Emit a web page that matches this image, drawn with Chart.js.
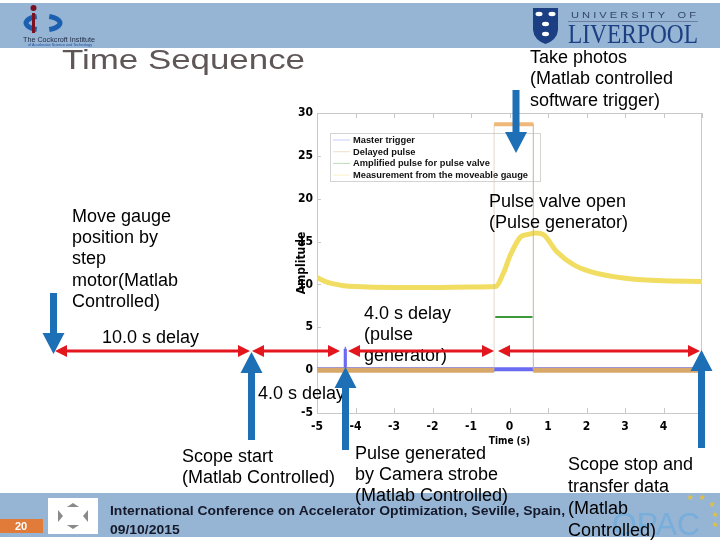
<!DOCTYPE html>
<html>
<head>
<meta charset="utf-8">
<title>Time Sequence</title>
<script src="https://cdn.jsdelivr.net/npm/chart.js@4.4.1/dist/chart.umd.min.js"></script>
<style>
  html, body { margin: 0; padding: 0; background: #fff; }
  #chart { display: block; }
</style>
</head>
<body>
<canvas id="chart" width="720" height="540"></canvas>
<script>
// values: time (s) and amplitude
const timeTicks = [-5, -4, -3, -2, -1, 0, 1, 2, 3, 4, 5];
const ampTicks = [-5, 0, 5, 10, 15, 20, 25, 30];
const seriesLabels = ['Master trigger', 'Delayed pulse', 'Amplified pulse for pulse valve', 'Measurement from the moveable gauge'];

const masterT = [-5, -4.28, -4.28, -4.25, -4.25, 5];
const masterV = [0.1, 0.1, 2.5, 2.5, 0.1, 0.1];
const delayedT = [-5, -0.4, -0.4, 0.62, 0.62, 5];
const delayedV = [0, 0, 28.7, 28.7, 0, 0];
const valveT = [-5, -0.37, -0.37, 0.6, 0.6, 5];
const valveV = [0, 0, 6.2, 6.2, 0, 0];
const gaugeT = [-5, -4.7, -4.3, -4.0, -3.0, -2.0, -1.0, -0.37, -0.16, 0.02, 0.28, 0.45, 0.67, 0.88, 1.23, 1.66, 2.1, 2.96, 3.83, 5.0];
const gaugeV = [10.8, 10.2, 9.85, 9.75, 9.65, 9.65, 9.7, 9.75, 11.3, 13.4, 15.5, 15.8, 16.0, 15.8, 13.8, 12.3, 11.5, 10.75, 10.45, 10.35];

const BAND = '#96b4d4';
const BLUE = '#1d6fb6';
const RED = '#e3161e';
const SANS = '"Liberation Sans", Arial, sans-serif';
const NARROW = '"Liberation Sans Narrow", "DejaVu Sans Condensed", "Liberation Sans", Arial, sans-serif';

const pts = (t, v) => t.map((x, i) => ({ x: x, y: v[i] }));
const vertical = c => c.p0.parsed.x === c.p1.parsed.x;

// draws text squeezed/stretched to a given width
function fitText(ctx, text, x, y, w, font, color) {
  ctx.save();
  ctx.font = font;
  ctx.fillStyle = color;
  ctx.textBaseline = 'alphabetic';
  ctx.textAlign = 'left';
  const m = ctx.measureText(text).width;
  ctx.translate(x, y);
  ctx.scale(w / m, 1);
  ctx.fillText(text, 0, 0);
  ctx.restore();
}

function lines(ctx, arr, x, ys) {
  ctx.save();
  ctx.font = '18px ' + SANS;
  ctx.fillStyle = '#000';
  ctx.textAlign = 'left';
  ctx.textBaseline = 'alphabetic';
  arr.forEach((s, i) => ctx.fillText(s, x, ys[i]));
  ctx.restore();
}

function blueArrow(ctx, x, tail, tip) {
  const dir = tip > tail ? 1 : -1;
  const head = 21, hw = 11, sw = 3.5;
  const base = tip - dir * head;
  ctx.save();
  ctx.fillStyle = BLUE;
  ctx.beginPath();
  ctx.moveTo(x - sw, tail);
  ctx.lineTo(x + sw, tail);
  ctx.lineTo(x + sw, base);
  ctx.lineTo(x + hw, base);
  ctx.lineTo(x, tip);
  ctx.lineTo(x - hw, base);
  ctx.lineTo(x - sw, base);
  ctx.closePath();
  ctx.fill();
  ctx.restore();
}

function redArrow(ctx, x1, x2, y) {
  const hl = 12, hw = 6;
  ctx.save();
  ctx.strokeStyle = RED;
  ctx.fillStyle = RED;
  ctx.lineWidth = 3;
  ctx.beginPath();
  ctx.moveTo(x1 + hl - 2, y);
  ctx.lineTo(x2 - hl + 2, y);
  ctx.stroke();
  ctx.beginPath();
  ctx.moveTo(x1, y); ctx.lineTo(x1 + hl, y - hw); ctx.lineTo(x1 + hl, y + hw); ctx.closePath();
  ctx.moveTo(x2, y); ctx.lineTo(x2 - hl, y - hw); ctx.lineTo(x2 - hl, y + hw); ctx.closePath();
  ctx.fill();
  ctx.restore();
}

const slide = {
  id: 'slide',
  beforeDraw(chart) {
    const ctx = chart.ctx;
    ctx.save();
    ctx.fillStyle = '#fff';
    ctx.fillRect(0, 0, 720, 540);
    ctx.fillStyle = BAND;
    ctx.fillRect(0, 3, 720, 45);
    ctx.fillRect(0, 493, 720, 44);

    // Cockcroft logo
    ctx.strokeStyle = '#1a5fb0';
    ctx.lineWidth = 5;
    ctx.beginPath();
    ctx.ellipse(43, 23, 17, 7, 0, Math.PI * 0.62, Math.PI * 1.38);
    ctx.stroke();
    ctx.beginPath();
    ctx.ellipse(43, 23, 17, 7, 0, -Math.PI * 0.38, Math.PI * 0.38);
    ctx.stroke();
    ctx.fillStyle = '#7a1020';
    ctx.beginPath(); ctx.arc(33.5, 8, 3, 0, Math.PI * 2); ctx.fill();
    ctx.fillRect(32, 13, 3, 20);
    fitText(ctx, 'The Cockcroft Institute', 23, 42, 72, '8px ' + SANS, '#1e2a44');
    fitText(ctx, 'of Accelerator Science and Technology', 28, 46, 64, '4px ' + SANS, '#1a4fa0');

    // Liverpool logo
    ctx.fillStyle = '#1b3f82';
    ctx.beginPath();
    ctx.moveTo(533, 8); ctx.lineTo(558, 8); ctx.lineTo(558, 30);
    ctx.quadraticCurveTo(557, 40, 545.5, 44);
    ctx.quadraticCurveTo(534, 40, 533, 30);
    ctx.closePath(); ctx.fill();
    ctx.fillStyle = '#fff';
    [[539, 14], [552, 14], [545.5, 24], [545.5, 34]].forEach(p => {
      ctx.beginPath(); ctx.ellipse(p[0], p[1], 3.5, 2.2, 0, 0, Math.PI * 2); ctx.fill();
    });
    fitText(ctx, 'U N I V E R S I T Y    O F', 571, 18, 125, '9px ' + SANS, '#33466e');
    ctx.fillStyle = '#6b7fa3';
    ctx.fillRect(568, 21, 130, 1);
    fitText(ctx, 'LIVERPOOL', 568, 43, 130, '28px "Liberation Serif", "Times New Roman", serif', '#1b3f82');

    // page number box
    ctx.fillStyle = '#e07b39';
    ctx.fillRect(0, 519, 43, 14);
    ctx.fillStyle = '#fff';
    ctx.font = 'bold 11px ' + SANS;
    ctx.textAlign = 'center';
    ctx.textBaseline = 'middle';
    ctx.fillText('20', 21, 526.5);

    // small conference logo
    ctx.fillStyle = '#fff';
    ctx.fillRect(48, 498, 50, 36);
    ctx.fillStyle = '#8a8a8a';
    [[73, 503, 0], [73, 529, 1]].forEach(p => {
      ctx.beginPath();
      ctx.moveTo(p[0] - 6, p[1] + (p[2] ? -4 : 4));
      ctx.lineTo(p[0], p[1]);
      ctx.lineTo(p[0] + 6, p[1] + (p[2] ? -4 : 4));
      ctx.closePath(); ctx.fill();
    });
    ctx.beginPath(); ctx.moveTo(58, 510); ctx.lineTo(63, 516); ctx.lineTo(58, 522); ctx.closePath(); ctx.fill();
    ctx.beginPath(); ctx.moveTo(88, 510); ctx.lineTo(83, 516); ctx.lineTo(88, 522); ctx.closePath(); ctx.fill();

    // OPAC logo
    fitText(ctx, 'OPAC', 612, 535, 88, '32px ' + SANS, '#78aedb');
    ctx.fillStyle = '#e6c23a';
    ctx.font = '8px "DejaVu Sans", sans-serif';
    ctx.textAlign = 'center';
    ctx.textBaseline = 'middle';
    [[690, 498], [702, 498], [712, 505], [715, 515], [715, 525]].forEach(p => ctx.fillText('\u2605', p[0], p[1]));
    ctx.restore();
  },
  beforeDatasetsDraw(chart) {
    const ctx = chart.ctx;
    const a = chart.chartArea;
    const xs = chart.scales.x, ys = chart.scales.y;
    ctx.save();
    // frame and inward ticks
    ctx.strokeStyle = '#c9c9c9';
    ctx.lineWidth = 1;
    ctx.beginPath();
    ctx.moveTo(a.left, a.top + 0.5); ctx.lineTo(a.right, a.top + 0.5);
    ctx.moveTo(a.right - 0.5, a.top); ctx.lineTo(a.right - 0.5, a.bottom);
    timeTicks.forEach(t => {
      const px = Math.round(xs.getPixelForValue(t)) + 0.5;
      ctx.moveTo(px, a.bottom); ctx.lineTo(px, a.bottom - 5);
      ctx.moveTo(px, a.top); ctx.lineTo(px, a.top + 5);
    });
    ampTicks.forEach(v => {
      const py = Math.round(ys.getPixelForValue(v)) + 0.5;
      ctx.moveTo(a.left, py); ctx.lineTo(a.left + 4, py);
    });
    ctx.stroke();

    // legend box inside the axes
    ctx.strokeStyle = '#d4d4d4';
    ctx.strokeRect(330.5, 133.5, 210, 48);
    ctx.font = 'bold 9px ' + SANS;
    const longest = ctx.measureText(seriesLabels[3]).width;
    const k = 175 / longest;
    chart.data.datasets.forEach((ds, i) => {
      const y = 143 + i * 11.7;
      ctx.globalAlpha = 0.35;
      ctx.strokeStyle = ds.borderColor;
      ctx.lineWidth = 1;
      ctx.beginPath(); ctx.moveTo(333, y - 3); ctx.lineTo(350, y - 3); ctx.stroke();
      ctx.globalAlpha = 1;
      const w = ctx.measureText(ds.label).width * k;
      fitText(ctx, ds.label, 353, y, w, 'bold 9px ' + SANS, '#111');
    });
    ctx.restore();
  },
  afterDraw(chart) {
    const ctx = chart.ctx;
    fitText(ctx, 'Time Sequence', 62, 69, 243, '28px ' + SANS, '#5f5757');

    lines(ctx, ['Take photos', '(Matlab controlled', 'software trigger)'], 530, [63, 84, 106]);
    lines(ctx, ['Pulse valve open', '(Pulse generator)'], 489, [207, 228]);
    lines(ctx, ['Move gauge', 'position by', 'step', 'motor(Matlab', 'Controlled)'], 72, [222, 243, 264, 286, 307]);
    lines(ctx, ['10.0 s delay'], 102, [343]);
    lines(ctx, ['4.0 s delay', '(pulse', 'generator)'], 364, [319, 340, 361]);
    lines(ctx, ['4.0 s delay'], 258, [399]);
    lines(ctx, ['Scope start', '(Matlab Controlled)'], 182, [462, 483]);
    lines(ctx, ['Pulse generated', 'by Camera strobe', '(Matlab Controlled)'], 355, [459, 480, 501]);
    lines(ctx, ['Scope stop and', 'transfer data', '(Matlab', 'Controlled)'], 568, [470, 492, 514, 536]);

    // footer
    ctx.save();
    ctx.font = 'bold 12px ' + SANS;
    const foot = 'International Conference on Accelerator Optimization, Seville, Spain,';
    const fk = 455 / ctx.measureText(foot).width;
    const dw = ctx.measureText('09/10/2015').width * fk;
    ctx.restore();
    fitText(ctx, foot, 110, 515, 455, 'bold 12px ' + SANS, '#15192a');
    fitText(ctx, '09/10/2015', 110, 534, dw, 'bold 12px ' + SANS, '#15192a');

    // timing arrows
    redArrow(ctx, 55, 250, 351);
    redArrow(ctx, 252, 340, 351);
    redArrow(ctx, 348, 494, 351);
    redArrow(ctx, 498, 700, 351);

    blueArrow(ctx, 53.5, 293, 354);
    blueArrow(ctx, 251.5, 440, 352);
    blueArrow(ctx, 345.5, 450, 367);
    blueArrow(ctx, 701.5, 448, 350);
    blueArrow(ctx, 516, 90, 153);
  }
};

new Chart(document.querySelector('#chart').getContext('2d'), {
  type: 'line',
  data: {
    datasets: [
      {
        label: seriesLabels[0],
        data: pts(masterT, masterV),
        borderColor: '#6a6af2',
        borderWidth: 4,
        order: 1,
        segment: { borderWidth: c => vertical(c) ? 2 : 4 }
      },
      {
        label: seriesLabels[1],
        data: pts(delayedT, delayedV),
        borderColor: '#d8a86a',
        borderWidth: 5,
        order: 0,
        segment: {
          borderWidth: c => vertical(c) ? 1 : (c.p0.parsed.y > 1 ? 4 : 5),
          borderColor: c => vertical(c) ? 'rgba(200,185,160,0.55)' : (c.p0.parsed.y > 1 ? '#f0b878' : '#d8a86a')
        }
      },
      {
        label: seriesLabels[2],
        data: pts(valveT, valveV),
        borderColor: '#3c9a3c',
        borderWidth: 2,
        order: 2,
        segment: { borderColor: c => vertical(c) ? 'rgba(60,154,60,0)' : '#3c9a3c' }
      },
      {
        label: seriesLabels[3],
        data: pts(gaugeT, gaugeV),
        borderColor: '#f1dd62',
        borderWidth: 5,
        order: 3,
        cubicInterpolationMode: 'monotone'
      }
    ]
  },
  options: {
    responsive: false,
    animation: false,
    events: [],
    layout: { padding: { left: 277, right: 18, top: 113, bottom: 93 } },
    elements: { point: { radius: 0 }, line: { tension: 0, borderCapStyle: 'butt' } },
    plugins: { legend: { display: false }, tooltip: { enabled: false } },
    scales: {
      x: {
        type: 'linear',
        min: -5,
        max: 5,
        afterBuildTicks: s => { s.ticks = timeTicks.map(v => ({ value: v })); },
        afterFit: s => { s.height = 34; },
        grid: { display: false, drawTicks: false },
        border: { display: true, color: '#c9c9c9' },
        ticks: { color: '#000', padding: 7, font: { family: NARROW, size: 12, weight: 'bold' } },
        title: { display: true, text: 'Time (s)', color: '#000', padding: { top: 0, bottom: 0 }, font: { family: NARROW, size: 10, weight: 'bold' } }
      },
      y: {
        type: 'linear',
        min: -5,
        max: 30,
        afterBuildTicks: s => { s.ticks = ampTicks.map(v => ({ value: v })); },
        afterFit: s => { s.width = 40; },
        grid: { display: false, drawTicks: false },
        border: { display: true, color: '#c9c9c9' },
        ticks: { color: '#000', padding: 4, font: { family: NARROW, size: 12, weight: 'bold' } },
        title: { display: true, text: 'Amplitude', color: '#000', padding: { top: 18, bottom: 0 }, font: { family: NARROW, size: 12, weight: 'bold' } }
      }
    }
  },
  plugins: [slide]
});
</script>
</body>
</html>
